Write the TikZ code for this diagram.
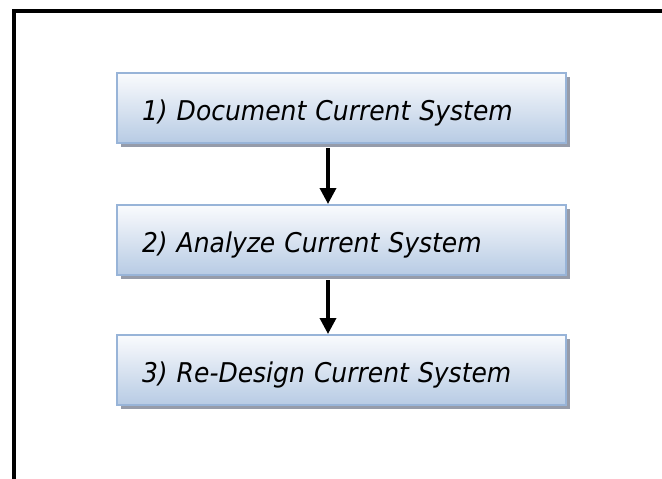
\documentclass[tikz,border=0pt]{standalone}
\usepackage{fontspec}
\setmainfont{DejaVu Sans}
\usetikzlibrary{arrows.meta,shadows,calc}
\definecolor{boxtop}{RGB}{250,251,253}
\definecolor{boxbot}{RGB}{183,203,228}
\definecolor{boxedge}{RGB}{152,180,216}
\definecolor{shadowgray}{RGB}{150,156,170}
\tikzset{
  stepbox/.style={rectangle, draw=boxedge, line width=2pt,
    top color=boxtop, bottom color=boxbot,
    minimum width=449pt, minimum height=70pt,
    text width=399pt, inner xsep=25pt, align=left,
    text height=24pt, text depth=0pt,
    font=\fontsize{27.2}{30}\selectfont\itshape\addfontfeature{FakeStretch=0.92},
    drop shadow={shadow xshift=4pt, shadow yshift=-4pt, fill=shadowgray, opacity=1}},
  flow/.style={line width=3.5pt, -{Triangle[width=16pt,length=16pt]}},
  frame/.style={line width=4pt}
}
\begin{document}
\begin{tikzpicture}[x=1pt,y=-1pt]
\useasboundingbox (0,0) rectangle (662,479);
\coordinate (ftop) at (662,11);
\coordinate (fcorner) at (14,11);
\coordinate (fbot) at (14,479);
\draw[frame] (ftop) -- (fcorner) -- (fbot);
\node[stepbox] (b1) at (341.5,108) {1) Document Current System};
\node[stepbox] (b2) at (341.5,240) {2) Analyze Current System};
\node[stepbox] (b3) at (341.5,370) {3) Re-Design Current System};
\draw[flow] ($(b1.south)+(-13.5,4)$) -- ($(b2.north)+(-13.5,0)$);
\draw[flow] ($(b2.south)+(-13.5,4)$) -- ($(b3.north)+(-13.5,0)$);
\end{tikzpicture}
\end{document}
